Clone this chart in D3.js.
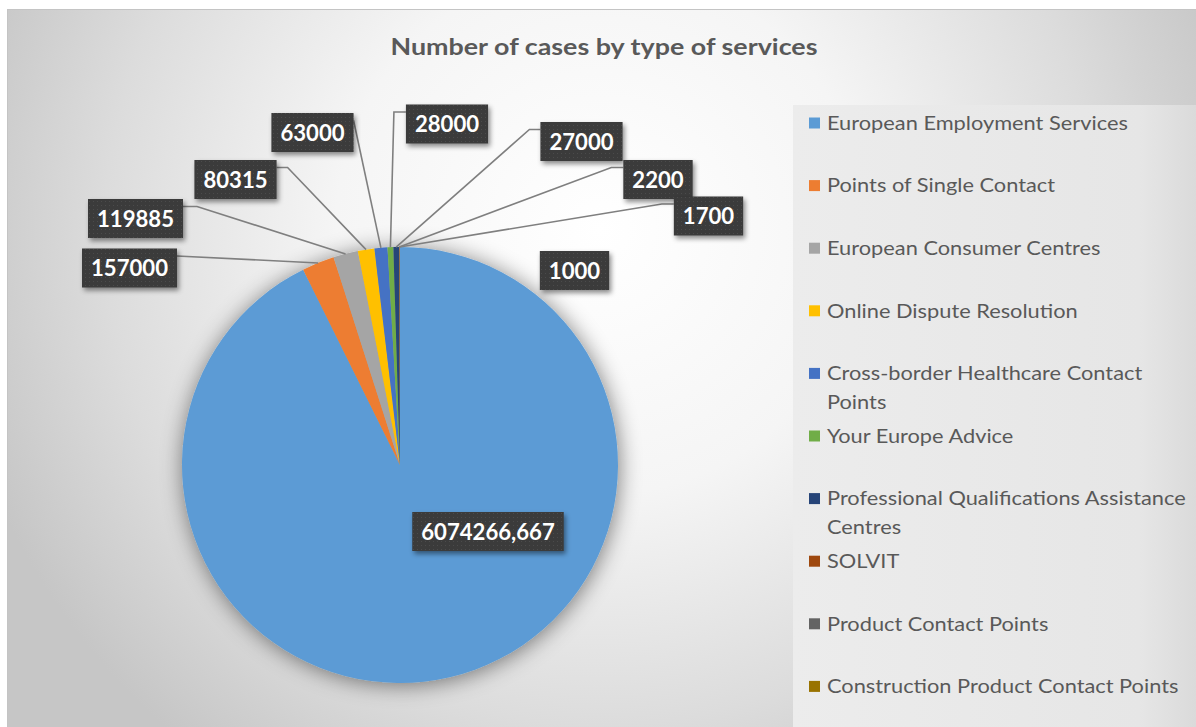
<!DOCTYPE html>
<html><head><meta charset="utf-8">
<script src="https://cdn.jsdelivr.net/npm/d3@7"></script>
<style>body{margin:0;background:#fff;} svg{display:block;}</style>
</head><body>
<svg id="chart" width="1196" height="727"></svg>
<script>
// ---- data ----
const title = "Number of cases by type of services";
const categories = [
  "European Employment Services",
  "Points of Single Contact",
  "European Consumer Centres",
  "Online Dispute Resolution",
  "Cross-border Healthcare Contact Points",
  "Your Europe Advice",
  "Professional Qualifications Assistance Centres",
  "SOLVIT",
  "Product Contact Points",
  "Construction Product Contact Points"
];
const values = [6074266.667, 157000, 119885, 80315, 63000, 28000, 27000, 2200, 1700, 1000];
const colors = ["#5B9BD5","#ED7D31","#A5A5A5","#FFC000","#4472C4","#70AD47","#264478","#9E480E","#636363","#997300"];

// ---- layout of data-label boxes (centre) and leader attachment ----
const labelLayout = [
  {cx:488,   cy:531.5, side:null},
  {cx:129.5, cy:268,   side:"right", elbow:0},
  {cx:135.5, cy:218.5, side:"right", elbow:14},
  {cx:235.5, cy:179.5, side:"right", elbow:11},
  {cx:312.5, cy:132.5, side:"right", elbow:0},
  {cx:447,   cy:124,   side:"left",  elbow:12},
  {cx:581.5, cy:141.5, side:"left",  elbow:11},
  {cx:658,   cy:179.5, side:"left",  elbow:12},
  {cx:708.5, cy:216,   side:"left",  elbow:12},
  {cx:574.5, cy:270.5, side:null}
];

const W = 1196, H = 727;
const cx = 400, cy = 465, R = 218;
const FONT = "Lato, 'Open Sans', 'Noto Sans', sans-serif";

const svg = d3.select("#chart");
const defs = svg.append("defs");

// background gradient
const bg = defs.append("radialGradient").attr("id","bgGrad")
  .attr("gradientUnits","userSpaceOnUse").attr("cx",600).attr("cy",230).attr("r",660);
bg.append("stop").attr("offset","0").attr("stop-color","#ffffff");
bg.append("stop").attr("offset","0.4").attr("stop-color","#f5f5f5");
bg.append("stop").attr("offset","0.75").attr("stop-color","#dcdcdc");
bg.append("stop").attr("offset","1").attr("stop-color","#c6c6c6");

const lg = defs.append("linearGradient").attr("id","legGrad").attr("x1","0").attr("x2","1").attr("y1","0").attr("y2","0");
lg.append("stop").attr("offset","0").attr("stop-color","#ececec");
lg.append("stop").attr("offset","0.85").attr("stop-color","#e6e6e6");
lg.append("stop").attr("offset","1").attr("stop-color","#d9d9d9");

// pie shadow
const fs = defs.append("filter").attr("id","pieShadow").attr("x","-30%").attr("y","-30%").attr("width","160%").attr("height","160%");
fs.append("feGaussianBlur").attr("in","SourceAlpha").attr("stdDeviation",11).attr("result","blur");
fs.append("feOffset").attr("in","blur").attr("dx",1).attr("dy",2).attr("result","off");
fs.append("feComponentTransfer").attr("in","off").attr("result","shadow")
  .append("feFuncA").attr("type","linear").attr("slope",0.5);
const fm = fs.append("feMerge");
fm.append("feMergeNode").attr("in","shadow");
fm.append("feMergeNode").attr("in","SourceGraphic");

// label box shadow
const ls = defs.append("filter").attr("id","boxShadow").attr("x","-20%").attr("y","-30%").attr("width","150%").attr("height","180%");
ls.append("feDropShadow").attr("dx",2).attr("dy",3).attr("stdDeviation",2.5).attr("flood-color","#000").attr("flood-opacity",0.45);

// texture for boxes
const pat = defs.append("pattern").attr("id","boxPat").attr("width",4).attr("height",4).attr("patternUnits","userSpaceOnUse");
pat.append("rect").attr("width",4).attr("height",4).attr("fill","#3a3a3a");
pat.append("rect").attr("x",1).attr("y",1).attr("width",1).attr("height",1).attr("fill","#4c4c4c");

// background
svg.append("rect").attr("width",W).attr("height",H).attr("fill","#ffffff");
svg.append("rect").attr("x",7.5).attr("y",9.5).attr("width",W+10).attr("height",H+10)
  .attr("fill","url(#bgGrad)").attr("stroke","#c4c4c4").attr("stroke-width",1);

// legend background
svg.append("rect").attr("x",793).attr("y",105).attr("width",W-793+5).attr("height",H-105+5)
  .attr("fill","url(#legGrad)");

// title
svg.append("text").attr("x",604).attr("y",47).attr("dy","0.36em")
  .attr("text-anchor","middle").attr("font-family",FONT).attr("font-weight","bold")
  .attr("font-size",23).attr("fill","#595959")
  .attr("textLength",427).attr("lengthAdjust","spacingAndGlyphs").text(title);

// pie
const pie = d3.pie().sort(null).value(d => d)(values);
const arc = d3.arc().innerRadius(0).outerRadius(R);
const edge = d3.arc().innerRadius(R).outerRadius(R);
const color = d3.scaleOrdinal().domain(categories).range(colors);

const gPie = svg.append("g").attr("transform",`translate(${cx},${cy})`).attr("filter","url(#pieShadow)");
gPie.selectAll("path").data(pie).join("path")
  .attr("d",arc).attr("fill",(d,i)=>color(categories[i]));

// data labels
const fmt = d3.formatLocale({decimal:",", thousands:"", grouping:[3], currency:["",""]}).format(".3~f");

const LABEL_FS = 23;
const probe = svg.append("text").attr("font-family",FONT).attr("font-weight","bold").attr("font-size",LABEL_FS).text("157000");
const labelK = 77 / probe.node().getComputedTextLength();
probe.remove();

const gLines = svg.append("g");
const gBoxes = svg.append("g");
const boxH = 39;
pie.forEach((d,i) => {
  const L = labelLayout[i];
  const txt = fmt(values[i]);
  const t = gBoxes.append("text").attr("font-family",FONT).attr("font-weight","bold")
    .attr("font-size",LABEL_FS).attr("fill","#ffffff").attr("text-anchor","middle")
    .attr("x",L.cx).attr("y",L.cy).attr("dy","0.36em").text(txt);
  const tw = t.node().getComputedTextLength() * labelK;
  t.attr("textLength", tw).attr("lengthAdjust","spacingAndGlyphs");
  const bw = tw + 18;
  const x0 = L.cx - bw/2, y0 = L.cy - boxH/2;
  gBoxes.insert("rect","text").attr("x",x0).attr("y",y0).attr("width",bw).attr("height",boxH)
    .attr("fill","url(#boxPat)").attr("filter","url(#boxShadow)");
  if (L.side) {
    const [ex, ey] = edge.centroid(d);
    const px = cx + ex, py = cy + ey;
    const ax = L.side === "right" ? x0 + bw : x0;
    const ay = y0 + 7.5;
    const bx = L.side === "right" ? ax + L.elbow : ax - L.elbow;
    gLines.append("polyline")
      .attr("points",`${px},${py} ${bx},${ay} ${ax},${ay}`)
      .attr("fill","none").attr("stroke","#7f7f7f").attr("stroke-width",1.6);
  }
});

// legend
const legX = 809, legTextX = 827, legY0 = 123, legStep = 62.6, lineH = 29, maxW = 362;
const LEG_FS = 19.5;
const lp = svg.append("text").attr("font-family",FONT).attr("font-size",LEG_FS).text(categories[0]);
const legK = 301 / lp.node().getComputedTextLength();
lp.remove();

const gLeg = svg.append("g");
const gLegText = svg.append("g")
  .attr("transform",`translate(${legTextX},0) scale(${legK},1) translate(${-legTextX},0)`);

categories.forEach((c,i) => {
  const y = legY0 + i*legStep;
  gLeg.append("rect").attr("x",legX).attr("y",y-5.5).attr("width",11).attr("height",11).attr("fill",colors[i]);
  const t = gLegText.append("text").attr("font-family",FONT).attr("font-size",LEG_FS).attr("fill","#595959");
  const words = c.split(" ");
  let line = [], lineNo = 0;
  let ts = t.append("tspan").attr("x",legTextX).attr("y",y).attr("dy","0.35em");
  words.forEach(w => {
    line.push(w);
    ts.text(line.join(" "));
    if (ts.node().getComputedTextLength() * legK > maxW && line.length > 1) {
      line.pop();
      ts.text(line.join(" "));
      line = [w];
      lineNo++;
      ts = t.append("tspan").attr("x",legTextX).attr("y",y + lineNo*lineH).attr("dy","0.35em").text(w);
    }
  });
});
</script>
</body></html>
